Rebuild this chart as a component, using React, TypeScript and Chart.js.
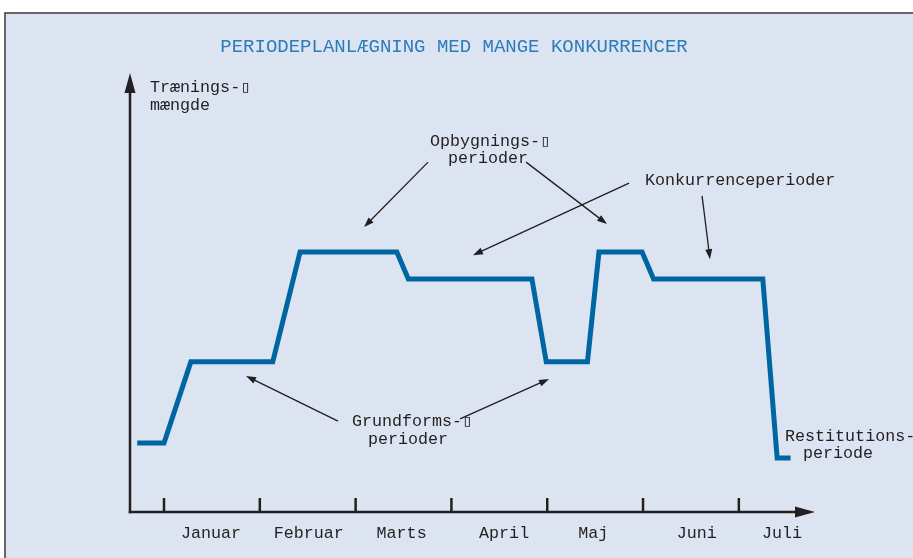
import { useEffect, useRef } from "react";
import { Chart, registerables } from "chart.js";

Chart.register(...registerables);

// ---- data ----
// x in months (0 = start of January), y = training amount (arbitrary units 0-10)
const timeMonths = [-0.28, 0, 0.28, 1.135, 1.42, 2.43, 2.55, 3.84, 3.99, 4.42, 4.54, 4.99, 5.11, 6.25, 6.4, 6.54];
const trainingLoad = [1.57, 1.57, 3.42, 3.42, 5.92, 5.92, 5.31, 5.31, 3.42, 3.42, 5.92, 5.92, 5.31, 5.31, 1.23, 1.23];

const monthLabels = ["Januar", "Februar", "Marts", "April", "Maj", "Juni", "Juli"];
const monthLabelPos = [0.49, 1.51, 2.48, 3.55, 4.48, 5.56, 6.45];
const monthBoundaries = [0, 1, 2, 3, 4, 5, 6];

const titleText = "PERIODEPLANLÆGNING MED MANGE KONKURRENCER";

// annotation texts: [text, x (months), y (units), align]
const noteTexts: [string, number, number, CanvasTextAlign][] = [
  ["Trænings-▯", -0.146, 9.66, "left"],
  ["mængde", -0.146, 9.25, "left"],
  ["Opbygnings-▯", 3.403, 8.43, "center"],
  ["perioder", 3.382, 8.06, "center"],
  ["Konkurrenceperioder", 5.021, 7.56, "left"],
  ["Grundforms-▯", 2.589, 2.05, "center"],
  ["perioder", 2.547, 1.66, "center"],
  ["Restitutions-", 6.482, 1.71, "left"],
  ["periode", 6.67, 1.32, "left"],
];

// annotation arrows: [fromX, fromY, toX, toY]
const noteArrows: [number, number, number, number][] = [
  [2.756, 7.97, 2.088, 6.49],
  [3.779, 7.97, 4.624, 6.56],
  [4.854, 7.49, 3.225, 5.85],
  [5.616, 7.2, 5.699, 5.76],
  [1.816, 2.07, 0.856, 3.1],
  [3.09, 2.12, 4.019, 3.03],
];

const X_MIN = -0.355;
const X_MAX = 6.795;
const Y_MIN = 0;
const Y_MAX = 10;
const TITLE_Y = 10.59;
const TITLE_X = 3.027;

const INK = "#231f20";
const MONO = '"Liberation Mono", "DejaVu Sans Mono", monospace';

function arrowHead(ctx: CanvasRenderingContext2D, x1: number, y1: number, x2: number, y2: number, len: number, half: number) {
  const a = Math.atan2(y2 - y1, x2 - x1);
  const bx = x2 - len * Math.cos(a);
  const by = y2 - len * Math.sin(a);
  ctx.beginPath();
  ctx.moveTo(x2, y2);
  ctx.lineTo(bx + half * Math.sin(a), by - half * Math.cos(a));
  ctx.lineTo(bx - half * Math.sin(a), by + half * Math.cos(a));
  ctx.closePath();
  ctx.fill();
}

const decorPlugin = {
  id: "decor",
  beforeDraw(chart: any) {
    const ctx = chart.ctx as CanvasRenderingContext2D;
    const { width, height } = chart;
    ctx.save();
    ctx.fillStyle = "#ffffff";
    ctx.fillRect(0, 0, width, height);
    ctx.fillStyle = "#dde4f1";
    ctx.fillRect(5, 13, width - 5, height - 13);
    ctx.strokeStyle = "#3a3a3a";
    ctx.lineWidth = 1.5;
    ctx.beginPath();
    ctx.moveTo(5, height);
    ctx.lineTo(5, 13);
    ctx.lineTo(width, 13);
    ctx.stroke();
    ctx.restore();
  },
  afterDraw(chart: any) {
    const ctx = chart.ctx as CanvasRenderingContext2D;
    const xs = chart.scales.x;
    const ys = chart.scales.y;
    const left = xs.getPixelForValue(X_MIN);
    const right = xs.getPixelForValue(X_MAX);
    const bottom = ys.getPixelForValue(Y_MIN);
    const top = ys.getPixelForValue(Y_MAX);
    ctx.save();
    ctx.strokeStyle = INK;
    ctx.fillStyle = INK;
    ctx.lineWidth = 2.5;
    ctx.lineCap = "butt";
    // y axis
    ctx.beginPath();
    ctx.moveTo(left, bottom + 1.25);
    ctx.lineTo(left, top + 15);
    ctx.stroke();
    arrowHead(ctx, left, bottom, left, top, 20, 5.5);
    // x axis
    ctx.beginPath();
    ctx.moveTo(left - 1.25, bottom);
    ctx.lineTo(right - 15, bottom);
    ctx.stroke();
    arrowHead(ctx, left, bottom, right, bottom, 20, 5.5);
    // month boundary ticks
    monthBoundaries.forEach((m) => {
      const px = xs.getPixelForValue(m);
      ctx.beginPath();
      ctx.moveTo(px, bottom);
      ctx.lineTo(px, bottom - 14);
      ctx.stroke();
    });
    // month labels
    ctx.font = `16.7px ${MONO}`;
    ctx.textAlign = "center";
    ctx.textBaseline = "middle";
    monthLabels.forEach((lab, i) => {
      ctx.fillText(lab, xs.getPixelForValue(monthLabelPos[i]), bottom + 22);
    });
    // title
    ctx.fillStyle = "#2b7cb9";
    ctx.font = `19px ${MONO}`;
    ctx.fillText(titleText, xs.getPixelForValue(TITLE_X), ys.getPixelForValue(TITLE_Y));
    // notes
    ctx.fillStyle = INK;
    ctx.font = `16.7px ${MONO}`;
    noteTexts.forEach(([t, x, y, align]) => {
      ctx.textAlign = align;
      ctx.fillText(t, xs.getPixelForValue(x), ys.getPixelForValue(y));
    });
    // arrows
    ctx.lineWidth = 1.3;
    noteArrows.forEach(([fx, fy, tx, ty]) => {
      const x1 = xs.getPixelForValue(fx);
      const y1 = ys.getPixelForValue(fy);
      const x2 = xs.getPixelForValue(tx);
      const y2 = ys.getPixelForValue(ty);
      const a = Math.atan2(y2 - y1, x2 - x1);
      ctx.beginPath();
      ctx.moveTo(x1, y1);
      ctx.lineTo(x2 - 6 * Math.cos(a), y2 - 6 * Math.sin(a));
      ctx.stroke();
      arrowHead(ctx, x1, y1, x2, y2, 10, 3.5);
    });
    ctx.restore();
  },
};

export default function App() {
  const ref = useRef<HTMLCanvasElement | null>(null);
  useEffect(() => {
    if (!ref.current) return;
    const chart = new Chart(ref.current, {
      type: "line",
      data: {
        datasets: [
          {
            data: timeMonths.map((x, i) => ({ x, y: trainingLoad[i] })),
            borderColor: "#0066a2",
            borderWidth: 5,
            pointRadius: 0,
            tension: 0,
            borderJoinStyle: "miter",
            borderCapStyle: "butt",
            fill: false,
          },
        ],
      },
      options: {
        animation: false,
        responsive: false,
        devicePixelRatio: 1,
        layout: { padding: { left: 130, right: 98, top: 73, bottom: 46 } },
        plugins: { legend: { display: false }, tooltip: { enabled: false }, title: { display: false } },
        scales: {
          x: { type: "linear", min: X_MIN, max: X_MAX, display: false },
          y: { type: "linear", min: Y_MIN, max: Y_MAX, display: false },
        },
      },
      plugins: [decorPlugin],
    });
    return () => chart.destroy();
  }, []);
  return (
    <div style={{ position: "fixed", left: 0, top: 0, width: 913, height: 558, background: "#fff" }}>
      <canvas ref={ref} width={913} height={558} style={{ width: 913, height: 558, display: "block" }} />
    </div>
  );
}
